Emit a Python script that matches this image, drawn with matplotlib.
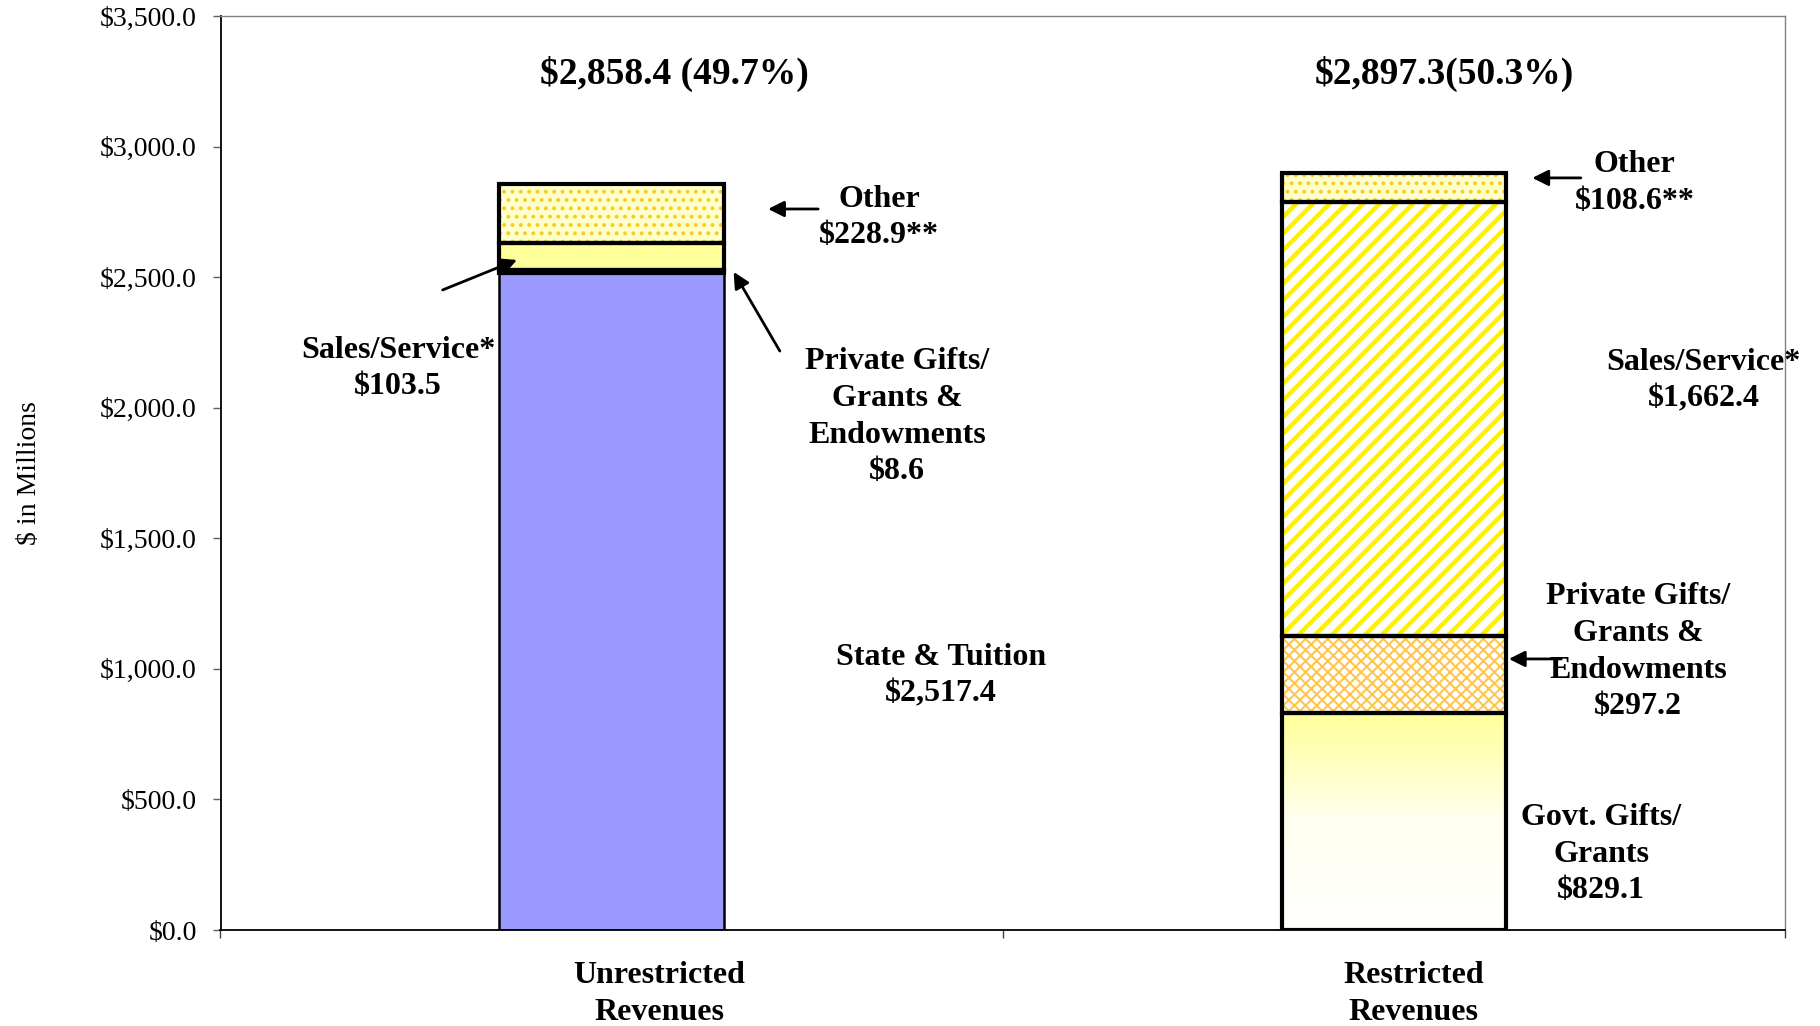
import matplotlib
matplotlib.use("Agg")
import matplotlib.pyplot as plt
import numpy as np
from matplotlib.ticker import FuncFormatter, FixedLocator
from matplotlib.colors import LinearSegmentedColormap

plt.rcParams['font.family'] = ['Liberation Serif', 'DejaVu Serif']
plt.rcParams['hatch.linewidth'] = 2.0

# ---------------- data ----------------
categories = ['Unrestricted\nRevenues', 'Restricted\nRevenues']
unrestricted_names = ['State & Tuition', 'Private Gifts/\nGrants &\nEndowments', 'Sales/Service*', 'Other']
unrestricted_values = [2517.4, 8.6, 103.5, 228.9]
restricted_names = ['Govt. Gifts/\nGrants', 'Private Gifts/\nGrants &\nEndowments', 'Sales/Service*', 'Other']
restricted_values = [829.1, 297.2, 1662.4, 108.6]
value_suffix_unres = ['', '', '', '**']
value_suffix_res = ['', '', '', '**']
title_sep = [' ', '']
yticks = [0, 500, 1000, 1500, 2000, 2500, 3000, 3500]

# ---------------- figure ----------------
fig = plt.figure(figsize=(18.2, 10.26), dpi=100)
ax = fig.add_axes([220.5 / 1820, 96 / 1026, 1564.5 / 1820, 914 / 1026])

x = np.arange(len(categories))
width = 0.287

# styles: (face, hatchcolor, hatch, edge lw, hatch lw)
unres_styles = [
    ('#9999FF', None, None, 1.8, 0),
    ('#FFFFFF', '#FFC64D', 'xxx', 3.0, 1.5),
    ('#FFFF99', None, None, 3.0, 0),
    ('#FFFFCC', '#F8CC20', '..', 3.0, 1.6),
]
res_styles = [
    ('gradient', None, None, 3.0, 0),
    ('#FFFFFF', '#FFC64D', 'xxx', 3.0, 1.5),
    ('#FFFFFF', '#FFF000', '//', 3.0, 3.2),
    ('#FFFFCC', '#F8CC20', '..', 3.0, 1.6),
]

grad_cmap = LinearSegmentedColormap.from_list('g', ['#FFFFFF', '#FFFFF0', '#FFFF99'])


def draw_stack(xi, values, styles):
    bottom = 0.0
    for v, (face, hc, hatch, lw, hlw) in zip(values, styles):
        if face == 'gradient':
            bars = ax.bar(xi, v, bottom=bottom, width=width, color='none', linewidth=0, zorder=2)
            patch = bars[0]
            grad = np.linspace(0, 1, 256).reshape(-1, 1)
            im = ax.imshow(grad, extent=[xi - width / 2, xi + width / 2, bottom, bottom + v],
                           origin='lower', aspect='auto', cmap=grad_cmap, zorder=2)
            im.set_clip_path(patch)
        elif hatch is not None:
            with plt.rc_context({'hatch.linewidth': hlw}):
                bars = ax.bar(xi, v, bottom=bottom, width=width, color=face, edgecolor=hc,
                              hatch=hatch, linewidth=0, zorder=2)
            for b in bars:
                if hasattr(b, 'set_hatch_linewidth'):
                    b.set_hatch_linewidth(hlw)
        else:
            ax.bar(xi, v, bottom=bottom, width=width, color=face, linewidth=0, zorder=2)
        ax.bar(xi, v, bottom=bottom, width=width, fill=False, edgecolor='black',
               linewidth=lw, zorder=3)
        bottom += v
    return bottom


tot_u = draw_stack(x[0], unrestricted_values, unres_styles)
tot_r = draw_stack(x[1], restricted_values, res_styles)
grand = tot_u + tot_r

ax.set_xlim(-0.5, 1.5)
ax.set_ylim(0, 3500)

# ---------------- axes styling ----------------
ax.yaxis.set_major_locator(FixedLocator(yticks))
ax.yaxis.set_major_formatter(FuncFormatter(lambda v, p: f"${v:,.1f}"))
ax.tick_params(axis='y', direction='out', length=6, width=1, color='#606060',
               labelsize=20, pad=11)
ax.xaxis.set_major_locator(FixedLocator([-0.5, 0.5, 1.5]))
ax.set_xticklabels([])
ax.tick_params(axis='x', direction='out', length=6, width=1, color='#404040')
for s in ['left', 'bottom']:
    ax.spines[s].set_color('black')
    ax.spines[s].set_linewidth(1.3)
for s in ['top', 'right']:
    ax.spines[s].set_color('#808080')
    ax.spines[s].set_linewidth(1.0)

ax.set_ylabel('$ in Millions', fontsize=20)
ax.yaxis.set_label_coords(-0.114, 0.5)

# category labels
cat_x = [0.061, 1.025]
for cx, lab_ in zip(cat_x, categories):
    ax.text(cx, -0.070, lab_, transform=ax.get_xaxis_transform(), ha='center', va='center',
            fontsize=23, fontweight='bold', linespacing=1.35)

# totals
ax.text(0.080, 3280, f"${tot_u:,.1f}{title_sep[0]}({tot_u / grand * 100:.1f}%)",
        ha='center', va='center', fontsize=27, fontweight='bold')
ax.text(1.064, 3280, f"${tot_r:,.1f}{title_sep[1]}({tot_r / grand * 100:.1f}%)",
        ha='center', va='center', fontsize=27, fontweight='bold')

tk = dict(ha='center', va='center', fontsize=23, fontweight='bold', linespacing=1.35)


def lab(name, v, suf=''):
    return f"{name}\n${v:,.1f}{suf}"


# unrestricted labels
ax.text(0.421, 975, lab(unrestricted_names[0], unrestricted_values[0]), **tk)
ax.text(0.365, 1965, lab(unrestricted_names[1], unrestricted_values[1]), **tk)
ax.text(-0.273, 2150, lab(unrestricted_names[2], unrestricted_values[2]), **tk)
ax.text(0.342, 2728, lab(unrestricted_names[3], unrestricted_values[3], value_suffix_unres[3]), **tk)

# restricted labels
ax.text(1.265, 290, lab(restricted_names[0], restricted_values[0]), **tk)
ax.text(1.312, 1065, lab(restricted_names[1], restricted_values[1]), **tk)
ax.text(1.396, 2104, lab(restricted_names[2], restricted_values[2]), **tk)
ax.text(1.308, 2860, lab(restricted_names[3], restricted_values[3], value_suffix_res[3]), **tk)

ap = dict(arrowstyle='-|>', color='black', lw=2.0, mutation_scale=24, shrinkA=0, shrinkB=0)
ax.annotate('', xy=(0.200, 2761), xytext=(0.264, 2761), arrowprops=ap, zorder=5)
ax.annotate('', xy=(-0.121, 2566), xytext=(-0.216, 2451), arrowprops=ap, zorder=5)
ax.annotate('', xy=(0.156, 2520), xytext=(0.215, 2217), arrowprops=ap, zorder=5)
ax.annotate('', xy=(1.177, 2880), xytext=(1.239, 2880), arrowprops=ap, zorder=5)
ax.annotate('', xy=(1.147, 1038), xytext=(1.214, 1038), arrowprops=ap, zorder=5)

fig.savefig('out.png', dpi=100)
